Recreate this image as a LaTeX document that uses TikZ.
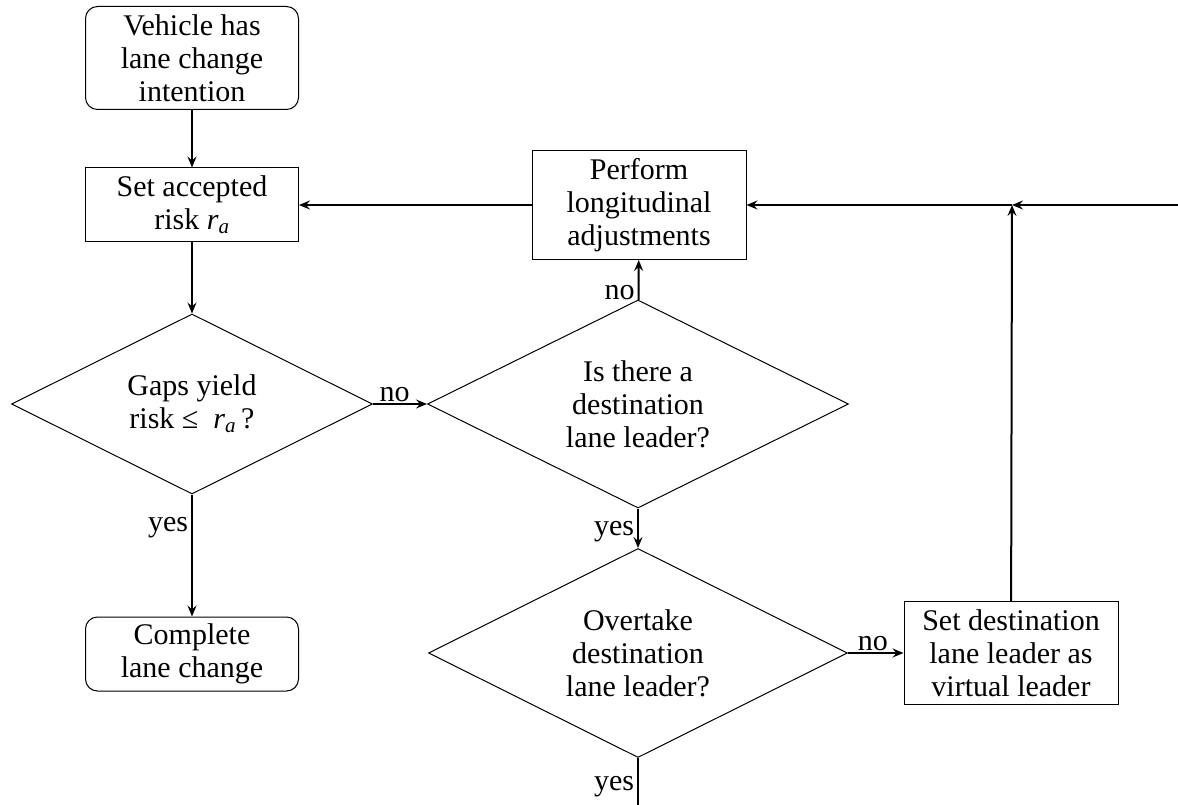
\documentclass[tikz,border=0pt]{standalone}
\usepackage{fontspec}
\setmainfont{Liberation Serif}
\usetikzlibrary{positioning}
\usetikzlibrary{shapes.geometric}
\usetikzlibrary{arrows.meta}
\newcommand{\riska}{\textit{r}\textsubscript{\textit{a}}}

\tikzset{
  procbox/.style={draw, line width=1pt, rectangle, align=center, inner sep=2pt, minimum width=213pt},
  termbox/.style={procbox, rounded corners=12pt},
  decision/.style={draw, line width=1pt, diamond, aspect=2, align=center, inner sep=0pt},
  flow/.style={line width=2pt, -{Stealth[length=11pt,width=9pt,inset=4pt]}},
  lbl/.style={inner sep=3pt}
}

\begin{document}
\begin{tikzpicture}[x=1pt, y=-1pt, font=\fontsize{30}{33}\selectfont]
\useasboundingbox (0,0) rectangle (1178,805);

\node[termbox, minimum height=103pt] (start) at (192,58) {Vehicle has\\lane change\\intention};
\node[procbox, minimum height=74pt] (setrisk) at (192,205) {Set accepted\\risk \riska};
\node[decision, minimum width=361pt, minimum height=180pt] (gaps) at (192,404) {Gaps yield\\risk ≤\ \ \riska\,?};
\node[termbox, minimum height=74pt] (complete) at (192,654) {Complete\\lane change};
\node[procbox, minimum width=214pt, minimum height=109pt] (perform) at (639,205) {Perform\\longitudinal\\adjustments};
\node[decision, minimum width=421pt, minimum height=208pt] (leader) at (638,404) {Is there a\\destination\\lane leader?};
\node[decision, minimum width=419pt, minimum height=209pt] (overtake) at (638,653) {Overtake\\destination\\lane leader?};
\node[procbox, minimum width=214pt, minimum height=103pt] (setdest) at (1011,653) {Set destination\\lane leader as\\virtual leader};

\coordinate (join) at (1012,205);
\coordinate (fromright) at (1178,205);
\coordinate (down) at (638,805);

\path[flow]
  (start) edge (setrisk)
  (setrisk) edge (gaps)
  (gaps) edge node [lbl, left, pos=0.27] {yes} (complete)
  (gaps) edge node [inner sep=1pt, above, pos=0.4] {no} (leader)
  (leader) edge node [lbl, left, pos=0.17] {no} (perform)
  (leader) edge node [lbl, left, pos=0.59] {yes} (overtake)
  (overtake) edge node [inner sep=1pt, above, pos=0.45] {no} (setdest)
  (perform) edge (setrisk)
  (fromright) edge (join)
  (setdest) edge (join)
  (join) edge (perform)
  ;
\draw[line width=2pt] (overtake.south) -- node [lbl, left, pos=0.6] {yes} (down);
\end{tikzpicture}
\end{document}
